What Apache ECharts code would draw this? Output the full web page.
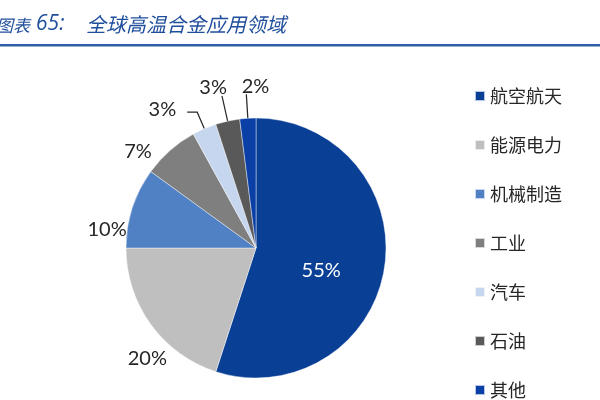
<!DOCTYPE html>
<html>
<head>
<meta charset="utf-8">
<script src="https://cdn.jsdelivr.net/npm/echarts@6/dist/echarts.min.js"></script>
<style>
html,body{margin:0;padding:0;background:#fff;}
#c{width:600px;height:400px;}
</style>
</head>
<body>
<div id="c"></div>
<script>
const categories = ['航空航天', '能源电力', '机械制造', '工业', '汽车', '石油', '其他'];
const values = [55, 20, 10, 7, 3, 3, 2];
const colors = ['#0a3f96', '#bfbfbf', '#4f81c4', '#7f7f7f', '#c6d6ee', '#595959', '#0a40a6'];
const titlePrefixWord = '图表';
const titlePrefixNum = '65:';
const titleText = '全球高温合金应用领域';

// label styling per slice (placement only)
const labelSpecs = [
  {position: 'inside', color: '#ffffff', line: false, len: 0, len2: 0, dx: -2, dy: 12},
  {position: 'outside', color: '#262626', line: false, len: 6, len2: 0, dx: 26, dy: 31},
  {position: 'outside', color: '#262626', line: false, len: 6, len2: 0, dx: 5, dy: 24},
  {position: 'outside', color: '#262626', line: false, len: 14, len2: 4, dx: 0, dy: 12},
  {position: 'outside', color: '#262626', line: true, len: 18, len2: 10, dx: -6, dy: -3},
  {position: 'outside', color: '#262626', line: true, len: 26, len2: 0, dx: 10, dy: -8},
  {position: 'outside', color: '#262626', line: true, len: 24, len2: 0, dx: 28, dy: -8}
];

const data = categories.map((name, i) => ({
  name: name,
  value: values[i],
  itemStyle: {color: colors[i]},
  label: {position: labelSpecs[i].position, color: labelSpecs[i].color},
  labelLine: {show: labelSpecs[i].line, length: labelSpecs[i].len, length2: labelSpecs[i].len2}
}));

const chart = echarts.init(document.getElementById('c'), null, {renderer: 'canvas'});
chart.setOption({
  animation: false,
  backgroundColor: '#ffffff',
  graphic: [
    {type: 'text', left: -4, top: 17, style: {text: titlePrefixWord, font: 'italic 17px "Noto Sans CJK SC"', fill: '#1f4e9c'}},
    {type: 'text', left: 36, top: 14, style: {text: titlePrefixNum, font: 'italic 21px "Open Sans"', fill: '#1f4e9c'}},
    {type: 'text', left: 86, top: 14, style: {text: titleText, font: 'italic 20px "Noto Sans CJK SC"', fill: '#1f4e9c'}},
    {type: 'rect', shape: {x: 0, y: 44, width: 600, height: 2.5}, style: {fill: '#2f5ea8'}}
  ],
  legend: {
    orient: 'vertical',
    left: 474,
    top: 87,
    height: 320,
    padding: 0,
    itemWidth: 10,
    itemHeight: 10,
    itemGap: 31,
    icon: 'rect',
    data: categories,
    textStyle: {fontSize: 18, color: '#262626', fontFamily: 'Noto Sans CJK SC', lineHeight: 18}
  },
  series: [{
    type: 'pie',
    center: [256, 248],
    radius: 130,
    startAngle: 90,
    clockwise: true,
    avoidLabelOverlap: false,
    itemStyle: {borderColor: 'rgba(255,255,255,0.7)', borderWidth: 0.6},
    label: {
      formatter: '{c}%',
      fontSize: 20,
      fontFamily: 'Lato',
      color: '#262626'
    },
    labelLine: {lineStyle: {color: '#262626', width: 1.2}},
    labelLayout: function (params) {
      const s = labelSpecs[params.dataIndex];
      return {dx: s.dx, dy: s.dy, hideOverlap: false};
    },
    data: data
  }]
});
</script>
</body>
</html>
